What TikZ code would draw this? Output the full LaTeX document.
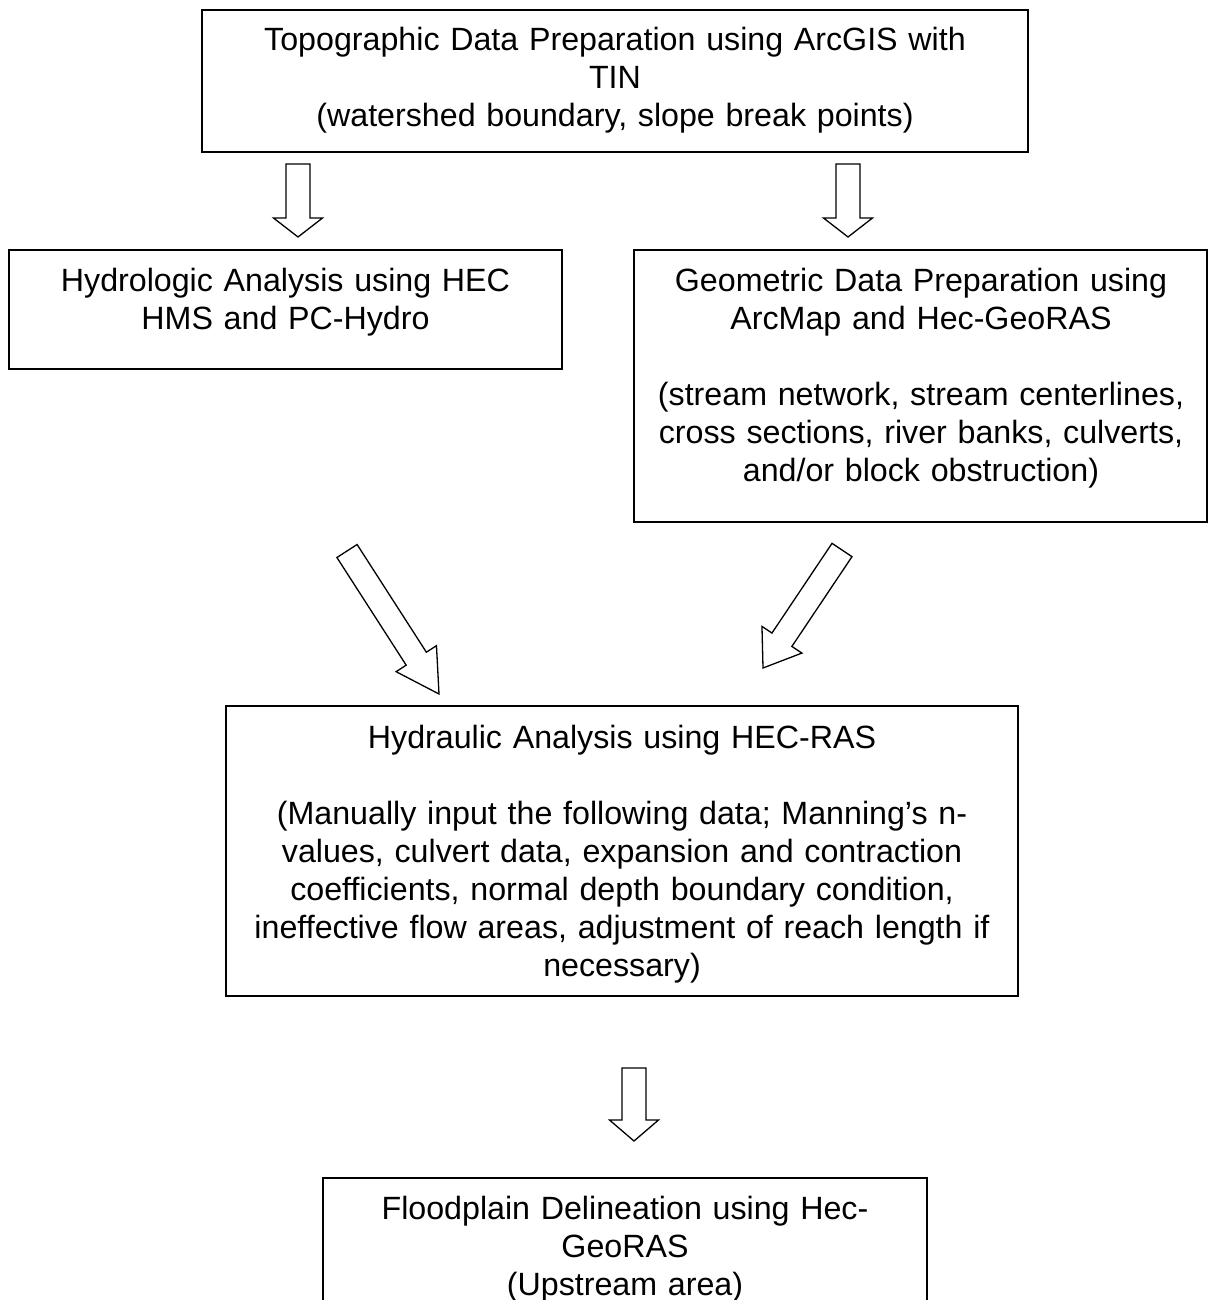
\documentclass[tikz,border=0pt]{standalone}
\usepackage{fontspec}
\setmainfont{Liberation Sans}
\usetikzlibrary{calc}
\tikzset{
  box/.style={draw, line width=1.8pt, rectangle, inner sep=0pt},
  lbl/.style={anchor=base, align=center, inner sep=0pt, font=\fontsize{32.2}{38}\selectfont},
  blockarrow/.style={draw, line width=1.3pt, line join=miter, fill=white}
}
% #1 tail, #2 tip, #3 head length, #4 half shaft width, #5 half head width
\newcommand\blockarr[5]{%
  \coordinate (#1-#2-h) at ($(#2)!#3!(#1)$);
  \draw[blockarrow] ($(#1)!#4!90:(#2)$) -- ($(#1-#2-h)!#4!-90:(#1)$) -- ($(#1-#2-h)!#5!-90:(#1)$) -- (#2) -- ($(#1-#2-h)!#5!90:(#1)$) -- ($(#1-#2-h)!#4!90:(#1)$) -- ($(#1)!#4!-90:(#2)$) -- cycle;
}
\begin{document}
\begin{tikzpicture}[x=1pt, y=-1pt]
\useasboundingbox (0,0) rectangle (1212,1300);
\fill[white] (0,0) rectangle (1212,1300);
\clip (0,0) rectangle (1212,1300);

% boxes
\node[box, minimum width=826pt, minimum height=142pt] (b1) at (615,81) {};
\node[box, minimum width=553pt, minimum height=119pt] (b2) at (285.5,309.5) {};
\node[box, minimum width=573pt, minimum height=272pt] (b3) at (920.5,386) {};
\node[box, minimum width=792pt, minimum height=290pt] (b4) at (622,851) {};
\node[box, minimum width=604pt, minimum height=162pt] (b5) at (625,1259) {};

% texts
\node[lbl, text width=820pt] (t1) at (615,51) {Topographic Data Preparation using ArcGIS with\\TIN\\(watershed boundary, slope break points)};
\node[lbl, text width=550pt] (t2) at (285.5,291) {Hydrologic Analysis using HEC\\HMS and PC-Hydro};
\node[lbl, text width=573pt] (t3) at (921,291) {Geometric Data Preparation using\\ArcMap and Hec-GeoRAS\\[38pt](stream network, stream centerlines,\\cross sections, river banks, culverts,\\and/or block obstruction)};
\node[lbl, text width=790pt] (t4) at (622,748) {Hydraulic Analysis using HEC-RAS\\[38pt](Manually input the following data; Manning’s n-\\values, culvert data, expansion and contraction\\coefficients, normal depth boundary condition,\\ineffective flow areas, adjustment of reach length if\\necessary)};
\node[lbl, text width=600pt] (t5) at (625,1219) {Floodplain Delineation using Hec-\\GeoRAS\\(Upstream area)};

% arrow end points
\coordinate (a1s) at (298,164);  \coordinate (a1e) at (298,237);
\coordinate (a2s) at (848,164);  \coordinate (a2e) at (848,237);
\coordinate (a3s) at (347,551);  \coordinate (a3e) at (439,694);
\coordinate (a4s) at (842,550);  \coordinate (a4e) at (763,668);
\coordinate (a5s) at (634,1068); \coordinate (a5e) at (634,1141);

\blockarr{a1s}{a1e}{19pt}{12pt}{24.5pt}
\blockarr{a2s}{a2e}{19pt}{12pt}{24.5pt}
\blockarr{a3s}{a3e}{42pt}{12pt}{24pt}
\blockarr{a4s}{a4e}{34pt}{12pt}{24pt}
\blockarr{a5s}{a5e}{21pt}{12pt}{24.5pt}
\end{tikzpicture}
\end{document}
